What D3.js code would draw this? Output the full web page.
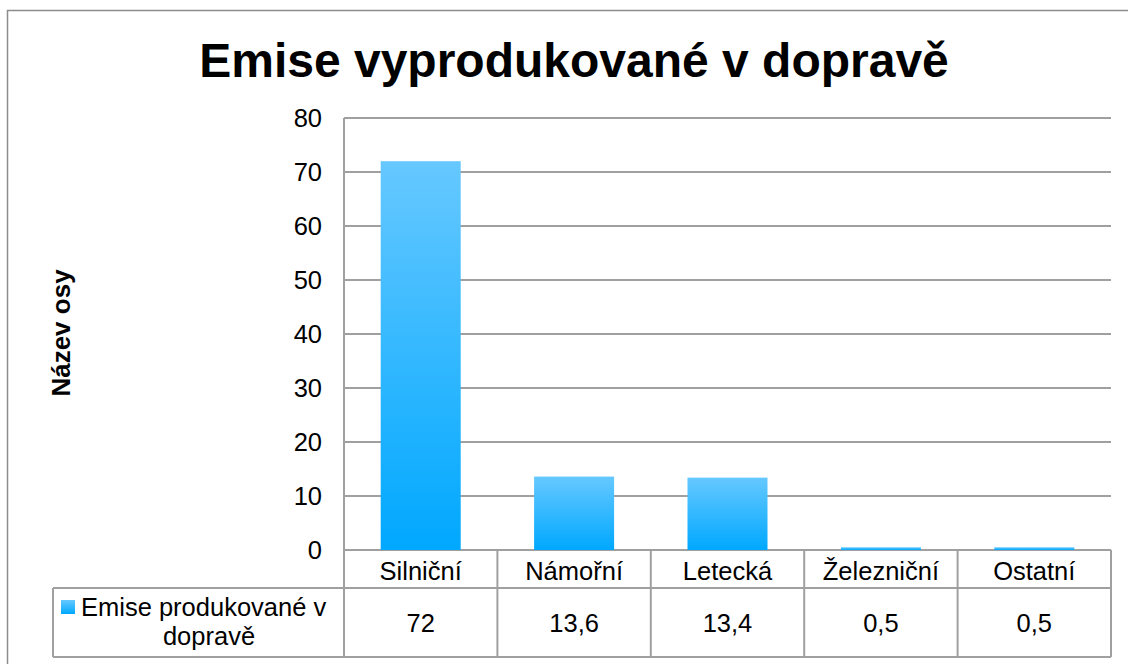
<!DOCTYPE html>
<html>
<head>
<meta charset="utf-8">
<script src="https://cdn.jsdelivr.net/npm/d3@7"></script>
<style>
  body { margin: 0; background: #fff; }
  text { font-family: Arial, "Liberation Sans", sans-serif; fill: #000; }
</style>
</head>
<body>
<div id="chart"></div>
<script>
var categories = ['Silniční', 'Námořní', 'Letecká', 'Železniční', 'Ostatní'];
var values = [72, 13.6, 13.4, 0.5, 0.5];
var valueLabels = ['72', '13,6', '13,4', '0,5', '0,5'];
var yTicks = [0, 10, 20, 30, 40, 50, 60, 70, 80];
var seriesName = ['Emise produkované v', 'dopravě'];

var W = 1128, H = 664;
var plotLeft = 344, plotRight = 1111, plotTop = 118, plotBottom = 550;
var headerBottom = 588, tableBottom = 657, legendLeft = 53;
var fs = '25.5px';

var svg = d3.select('#chart').append('svg')
  .attr('width', W).attr('height', H);

var grad = svg.append('defs').append('linearGradient')
  .attr('id', 'barGrad')
  .attr('x1', 0).attr('y1', 0).attr('x2', 0).attr('y2', 1);
grad.append('stop').attr('offset', '0%').attr('stop-color', '#66c8ff');
grad.append('stop').attr('offset', '100%').attr('stop-color', '#00a8ff');

// chart area border
svg.append('rect')
  .attr('x', 7.5).attr('y', 10.5)
  .attr('width', 1140).attr('height', 700)
  .attr('fill', 'none').attr('stroke', '#8c8c8c').attr('stroke-width', 1.5);

var x = d3.scaleBand().domain(categories).range([plotLeft, plotRight]).paddingInner(0).paddingOuter(0);
var y = d3.scaleLinear().domain([0, 80]).range([plotBottom, plotTop]);

// gridlines
svg.append('g').selectAll('line')
  .data(yTicks)
  .enter()
  .append('line')
  .attr('x1', plotLeft).attr('x2', plotRight)
  .attr('y1', function(d){ return y(d); })
  .attr('y2', function(d){ return y(d); })
  .attr('stroke', '#a0a0a0').attr('stroke-width', 2);

// y axis labels
svg.append('g').selectAll('text')
  .data(yTicks)
  .enter()
  .append('text')
  .attr('x', 322)
  .attr('y', function(d){ return y(d); })
  .attr('dy', '0.35em')
  .attr('text-anchor', 'end')
  .style('font-size', fs)
  .text(function(d){ return d; });

// bars
var barW = 80;
svg.append('g').selectAll('rect')
  .data(values)
  .enter()
  .append('rect')
  .attr('x', function(d, i){ return x(categories[i]) + x.bandwidth()/2 - barW/2; })
  .attr('y', function(d){ return y(d); })
  .attr('width', barW)
  .attr('height', function(d){ return plotBottom - y(d); })
  .attr('fill', 'url(#barGrad)');

// table lines
var tbl = svg.append('g').attr('stroke', '#a0a0a0').attr('stroke-width', 2).attr('fill', 'none');
tbl.append('line').attr('x1', plotLeft).attr('x2', plotLeft).attr('y1', plotTop).attr('y2', tableBottom);
tbl.append('line').attr('x1', legendLeft).attr('x2', plotRight).attr('y1', headerBottom).attr('y2', headerBottom);
tbl.append('line').attr('x1', legendLeft).attr('x2', plotRight).attr('y1', tableBottom).attr('y2', tableBottom);
tbl.append('line').attr('x1', legendLeft).attr('x2', legendLeft).attr('y1', headerBottom).attr('y2', tableBottom);
tbl.selectAll('line.sep')
  .data(categories)
  .enter()
  .append('line')
  .attr('class', 'sep')
  .attr('x1', function(d){ return x(d) + x.bandwidth(); })
  .attr('x2', function(d){ return x(d) + x.bandwidth(); })
  .attr('y1', plotBottom).attr('y2', tableBottom);

// category labels
svg.append('g').selectAll('text')
  .data(categories)
  .enter()
  .append('text')
  .attr('x', function(d){ return x(d) + x.bandwidth()/2; })
  .attr('y', 580)
  .attr('text-anchor', 'middle')
  .style('font-size', fs)
  .text(function(d){ return d; });

// value row
svg.append('g').selectAll('text')
  .data(valueLabels)
  .enter()
  .append('text')
  .attr('x', function(d, i){ return x(categories[i]) + x.bandwidth()/2; })
  .attr('y', 632)
  .attr('text-anchor', 'middle')
  .style('font-size', fs)
  .text(function(d){ return d; });

// legend cell
svg.append('rect')
  .attr('x', 61).attr('y', 600).attr('width', 14).attr('height', 14)
  .attr('fill', 'url(#barGrad)');
svg.append('text')
  .attr('x', 81).attr('y', 616)
  .style('font-size', fs)
  .text(seriesName[0]);
svg.append('text')
  .attr('x', 209).attr('y', 645)
  .attr('text-anchor', 'middle')
  .style('font-size', fs)
  .text(seriesName[1]);

// title
svg.append('text')
  .attr('x', 574).attr('y', 77)
  .attr('text-anchor', 'middle')
  .style('font-size', '48px')
  .style('font-weight', 'bold')
  .text('Emise vyprodukované v dopravě');

// y axis title
svg.append('text')
  .attr('transform', 'translate(70,333) rotate(-90)')
  .attr('text-anchor', 'middle')
  .style('font-size', '26px')
  .style('font-weight', 'bold')
  .text('Název osy');
</script>
</body>
</html>
